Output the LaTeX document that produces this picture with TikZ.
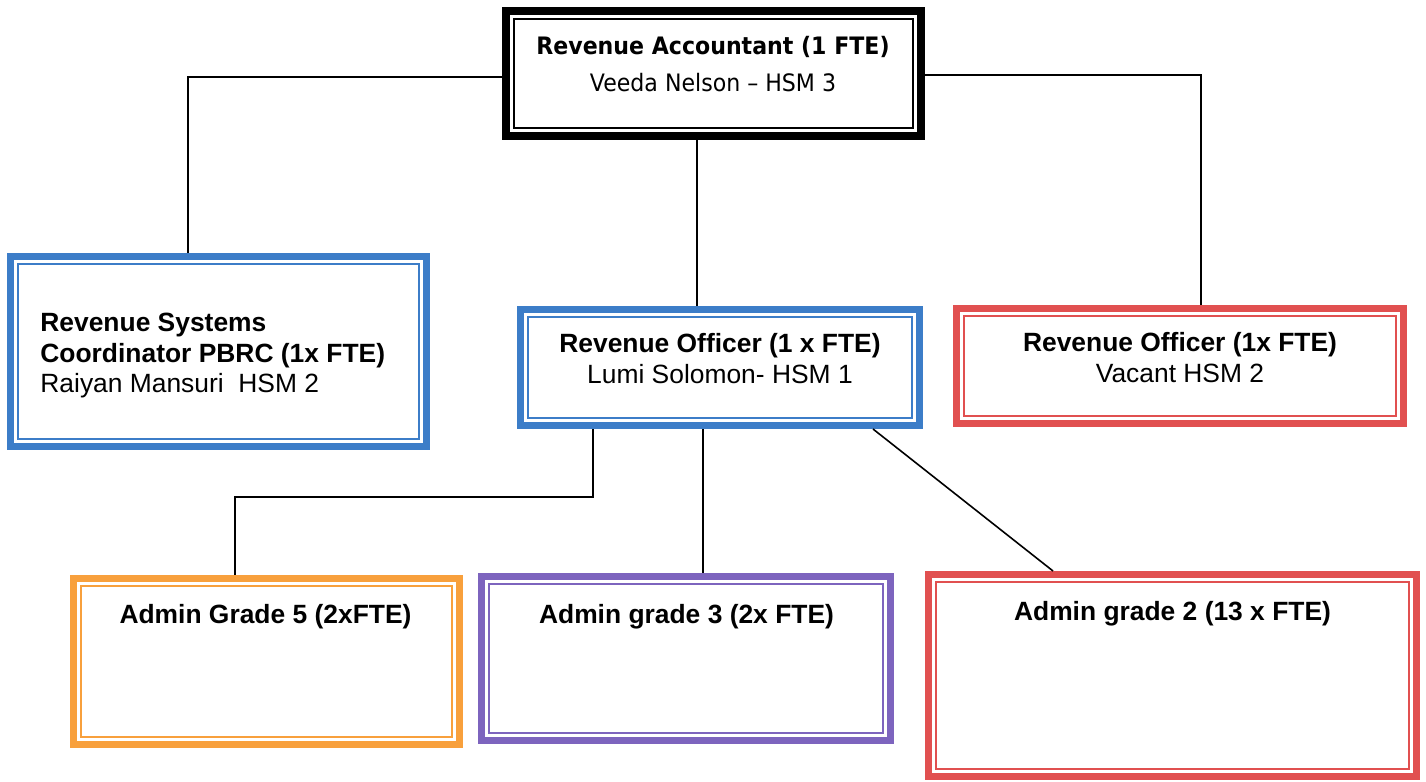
\documentclass[tikz,border=0pt]{standalone}
\usepackage{fontspec}
\setmainfont{Liberation Sans}
\newfontfamily\headfont{DejaVu Sans}[FakeStretch=0.92]

\definecolor{boxblue}{RGB}{60,125,200}
\definecolor{boxred}{RGB}{225,80,80}
\definecolor{boxorange}{RGB}{248,160,60}
\definecolor{boxpurple}{RGB}{125,100,190}

\tikzset{
  unit/.style={draw=#1, line width=3.5pt, inner sep=0pt},
  tie/.style={line width=0.8pt},
  lbl/.style={font=\fontsize{13.2}{15.25}\selectfont, align=center, inner sep=0pt},
  grade/.style={font=\fontsize{13.2}{15.25}\selectfont\bfseries, anchor=base, inner sep=0pt},
}

\begin{document}
\begin{tikzpicture}[x=0.5pt,y=-0.5pt]
	\useasboundingbox (0,0) rectangle (1426,782);

	%boxes
	\node[unit=black, line width=4pt, minimum width=207.5pt, minimum height=62.5pt] (acct) at (713.5,73.5) {}; %accountant
	\node[unit=boxblue, minimum width=208pt, minimum height=95pt] (rsc) at (218.5,351.5) {}; %systems coordinator
	\node[unit=boxblue, minimum width=199.5pt, minimum height=58pt] (ro1) at (720,367.5) {}; %officer 1
	\node[unit=boxred, minimum width=223.5pt, minimum height=57.5pt] (ro2) at (1180,366) {}; %officer 2
	\node[unit=boxorange, minimum width=193pt, minimum height=83pt] (ag5) at (266.5,661.5) {}; %grade 5
	\node[unit=boxpurple, minimum width=204.5pt, minimum height=82pt] (ag3) at (686,658.5) {}; %grade 3
	\node[unit=boxred, minimum width=244pt, minimum height=101pt] (ag2) at (1172.5,675.5) {}; %grade 2

	%inner frames
	\foreach \n/\c/\d in {acct/black/5.8pt, rsc/boxblue/5.5pt, ro1/boxblue/5.5pt, ro2/boxred/5.5pt, ag5/boxorange/5.5pt, ag3/boxpurple/5.5pt, ag2/boxred/5.5pt}
		\draw[\c, line width=1pt] ([shift={(\d,\d)}]\n.south west) rectangle ([shift={(-\d,-\d)}]\n.north east);

	%texts
	\node[lbl, font=\headfont\fontsize{12}{18.5}\selectfont] (acctTxt) at (713,64) {\textbf{Revenue Accountant (1 FTE)}\\Veeda Nelson – HSM 3};
	\node[lbl, align=left, anchor=west] (rscTxt) at (40,355.6) {\textbf{Revenue Systems}\\\textbf{Coordinator PBRC (1x FTE)}\\Raiyan Mansuri\ \ HSM 2};
	\node[lbl] (ro1Txt) at (720,358.7) {\textbf{Revenue Officer (1 x FTE)}\\Lumi Solomon- HSM 1};
	\node[lbl] (ro2Txt) at (1180,357.5) {\textbf{Revenue Officer (1x FTE)}\\Vacant HSM 2};
	\node[grade] (ag5Txt) at (265.5,623) {Admin Grade 5 (2xFTE)};
	\node[grade] (ag3Txt) at (686.5,623) {Admin grade 3 (2x FTE)};
	\node[grade] (ag2Txt) at (1172.5,620) {Admin grade 2 (13 x FTE)};

	%connectors
	\draw[tie] ([yshift=-1.6pt]acct.west) -| ([xshift=-15.25pt]rsc.north); %to coordinator
	\draw[tie] ([yshift=-0.8pt]acct.east) -| ([xshift=10.5pt]ro2.north); %to officer 2
	\draw[tie] ([xshift=-8.25pt]acct.south) -- ([xshift=-11.5pt]ro1.north); %to officer 1
	\draw[tie] ([xshift=-63.5pt]ro1.south) -- ++(0,68) -| ([xshift=-15.75pt]ag5.north); %to grade 5
	\draw[tie] ([xshift=-8.5pt]ro1.south) -- ([xshift=8.5pt]ag3.north); %to grade 3
	\draw[tie] ([xshift=-25pt]ro1.south east) -- ([xshift=64pt]ag2.north west); %to grade 2
\end{tikzpicture}
\end{document}
